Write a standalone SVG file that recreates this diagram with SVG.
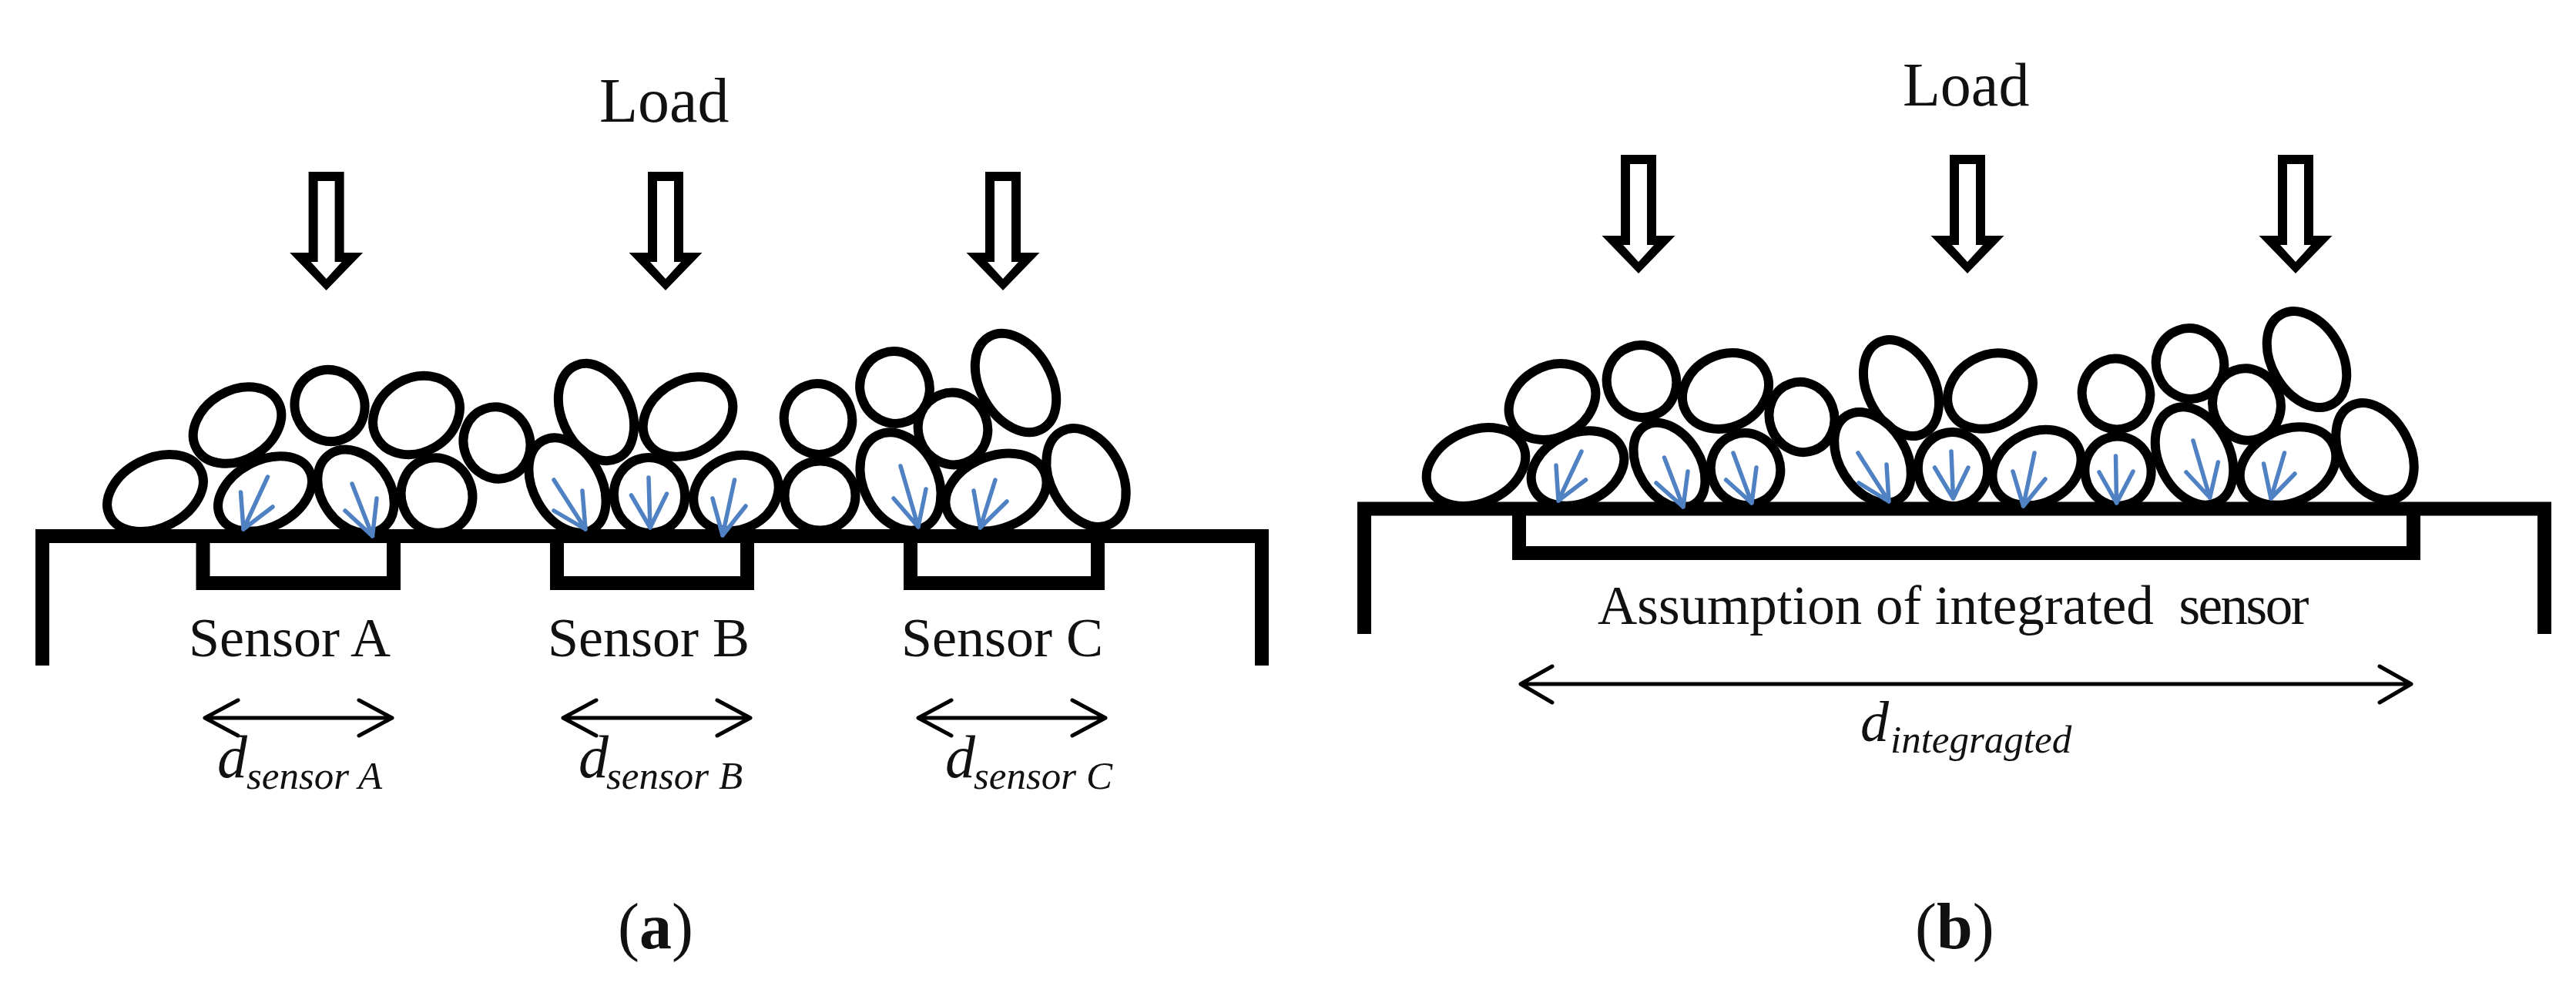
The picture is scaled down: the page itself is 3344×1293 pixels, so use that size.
<svg xmlns="http://www.w3.org/2000/svg" xmlns:xlink="http://www.w3.org/1999/xlink" width="3344" height="1293" viewBox="0 0 3344 1293">
<style>
text{font-family:"Liberation Serif","Times New Roman",serif;fill:#111}
.lbl{font-size:72px}
.d{font-style:italic;font-size:78px}
.sub{font-style:italic;font-size:51px}
.cap{font-size:84px}
.p{fill:#fff;stroke:#000;stroke-width:12}
.base{fill:none;stroke:#000;stroke-width:18;stroke-linejoin:miter}
.blue{fill:none;stroke:#4f81c3;stroke-width:5.5;stroke-linecap:round}
.dim{fill:none;stroke:#000;stroke-width:5;stroke-linecap:round;stroke-linejoin:round}
</style>
<defs>
<g id="load">
<path d="M-23 0H23V105H47.5L0 154L-47.5 105H-23Z" fill="#000"/>
<path d="M-11 12H11V117H20L0 139L-20 117H-11Z" fill="#fff"/>
</g>
</defs>
<rect width="3344" height="1293" fill="#fff"/>

<g id="panel-a">
<g id="load-a">
<text class="lbl" x="778" y="158" style="font-size:82px" >Load</text>
<use href="#load" x="423.6" y="223"/>
<use href="#load" x="864" y="223"/>
<use href="#load" x="1302" y="223"/>
</g>
<g id="particles-a">
<ellipse class="p" cx="201.5" cy="640" rx="66" ry="45" transform="rotate(-27 201.5 640)"/>
<ellipse class="p" cx="308" cy="552" rx="61" ry="45" transform="rotate(-31 308 552)"/>
<ellipse class="p" cx="428" cy="526.5" rx="47" ry="45" transform="rotate(60 428 526.5)"/>
<ellipse class="p" cx="540.5" cy="539" rx="59" ry="48" transform="rotate(-31 540.5 539)"/>
<ellipse class="p" cx="645" cy="575" rx="47" ry="43" transform="rotate(70 645 575)"/>
<ellipse class="p" cx="567" cy="643" rx="49" ry="46" transform="rotate(70 567 643)"/>
<ellipse class="p" cx="344" cy="641" rx="65" ry="43" transform="rotate(-28 344 641)"/>
<ellipse class="p" cx="462" cy="638" rx="59" ry="44" transform="rotate(54 462 638)"/>
<ellipse class="p" cx="774" cy="535" rx="66" ry="45" transform="rotate(66 774 535)"/>
<ellipse class="p" cx="893" cy="541" rx="62" ry="47" transform="rotate(-32 893 541)"/>
<ellipse class="p" cx="736.5" cy="630" rx="66" ry="44" transform="rotate(61 736.5 630)"/>
<ellipse class="p" cx="843" cy="643" rx="49" ry="46" transform="rotate(80 843 643)"/>
<ellipse class="p" cx="955.5" cy="640" rx="57" ry="47" transform="rotate(-27 955.5 640)"/>
<ellipse class="p" cx="1064.5" cy="643.5" rx="46" ry="45"/>
<ellipse class="p" cx="1062" cy="544" rx="46" ry="44" transform="rotate(70 1062 544)"/>
<ellipse class="p" cx="1161.5" cy="503" rx="47" ry="45" transform="rotate(70 1161.5 503)"/>
<ellipse class="p" cx="1237" cy="556.5" rx="47" ry="45" transform="rotate(70 1237 556.5)"/>
<ellipse class="p" cx="1318.5" cy="497" rx="69" ry="46" transform="rotate(60 1318.5 497)"/>
<ellipse class="p" cx="1169" cy="625" rx="67" ry="48" transform="rotate(63 1169 625)"/>
<ellipse class="p" cx="1293" cy="639" rx="68" ry="47" transform="rotate(-22 1293 639)"/>
<ellipse class="p" cx="1410" cy="620" rx="68" ry="46" transform="rotate(62 1410 620)"/>
</g>
<g id="plate-a">
<path class="base" d="M55 864V696H1638V864"/>
<path class="base" d="M263.500 696V757H511V696"/>
<path class="base" d="M723 696V757H970V696"/>
<path class="base" d="M1182 696V757H1425V696"/>
</g>
<g id="forces-a">
<path class="blue" d="M347.500 619L316 687M312.500 639L316 687M354 658L316 687"/>
<path class="blue" d="M457 628L483.500 696M489 647L483.500 696M448 663L483.500 696"/>
<path class="blue" d="M719 623L760 687M756 637L760 687M719 663L760 687"/>
<path class="blue" d="M842 620L844 685M819.500 643L844 685M865.500 641L844 685"/>
<path class="blue" d="M953.500 623L938 695M925 647L938 695M968 657L938 695"/>
<path class="blue" d="M1169 605L1192 684M1202 635L1192 684M1160 647L1192 684"/>
<path class="blue" d="M1292 623L1272.500 685M1264 637L1272.500 685M1307 651L1272.500 685"/>
</g>
<g id="sensor-labels-a">
<text class="lbl" x="245" y="852">Sensor A</text>
<text class="lbl" x="711" y="852">Sensor B</text>
<text class="lbl" x="1170" y="852">Sensor C</text>
</g>
<g id="connectors-a">
<path class="dim" d="M266 932H509M309 909L266 932L309 955M466 909L509 932L466 955"/>
<path class="dim" d="M731 932H974M774 909L731 932L774 955M931 909L974 932L931 955"/>
<path class="dim" d="M1192 932H1435M1235 909L1192 932L1235 955M1392 909L1435 932L1392 955"/>
</g>
<g id="dim-labels-a">
<text x="282" y="1009"><tspan class="d">d</tspan><tspan class="sub" x="320" y="1024">sensor A</tspan></text>
<text x="751" y="1009"><tspan class="d">d</tspan><tspan class="sub" x="787" y="1024">sensor B</tspan></text>
<text x="1227" y="1009"><tspan class="d">d</tspan><tspan class="sub" x="1264" y="1024">sensor C</tspan></text>
</g>
<text class="cap" x="802" y="1231">(<tspan font-weight="bold">a</tspan>)</text>
</g>

<g id="panel-b">
<g id="load-b">
<text class="lbl" x="2470" y="137" style="font-size:80px">Load</text>
<use href="#load" x="2127" y="201"/>
<use href="#load" x="2554" y="201"/>
<use href="#load" x="2980" y="201"/>
</g>
<g id="particles-b">
<ellipse class="p" cx="1916" cy="606" rx="67" ry="47" transform="rotate(-24 1916 606)"/>
<ellipse class="p" cx="2015" cy="521.500" rx="59" ry="46" transform="rotate(-29 2015 521.500)"/>
<ellipse class="p" cx="2131" cy="495" rx="47" ry="45" transform="rotate(70 2131 495)"/>
<ellipse class="p" cx="2240" cy="507.500" rx="58" ry="47" transform="rotate(-27 2240 507.500)"/>
<ellipse class="p" cx="2339" cy="541.500" rx="46" ry="42" transform="rotate(70 2339 541.500)"/>
<ellipse class="p" cx="2266" cy="609" rx="47" ry="45" transform="rotate(70 2266 609)"/>
<ellipse class="p" cx="2048" cy="608" rx="63" ry="45" transform="rotate(-25 2048 608)"/>
<ellipse class="p" cx="2167" cy="604" rx="60" ry="40" transform="rotate(58 2167 604)"/>
<ellipse class="p" cx="2468" cy="503.500" rx="66" ry="44" transform="rotate(64 2468 503.500)"/>
<ellipse class="p" cx="2583.500" cy="507.500" rx="58" ry="46" transform="rotate(-30 2583.500 507.500)"/>
<ellipse class="p" cx="2431" cy="594" rx="64" ry="43" transform="rotate(58 2431 594)"/>
<ellipse class="p" cx="2535" cy="609" rx="48" ry="45" transform="rotate(80 2535 609)"/>
<ellipse class="p" cx="2644" cy="607" rx="60" ry="46" transform="rotate(-27 2644 607)"/>
<ellipse class="p" cx="2749.500" cy="611.500" rx="45" ry="43" transform="rotate(80 2749.500 611.500)"/>
<ellipse class="p" cx="2747" cy="511.500" rx="46" ry="44" transform="rotate(70 2747 511.500)"/>
<ellipse class="p" cx="2843" cy="472" rx="46" ry="44" transform="rotate(70 2843 472)"/>
<ellipse class="p" cx="2916.500" cy="525" rx="47" ry="44" transform="rotate(70 2916.500 525)"/>
<ellipse class="p" cx="2994.500" cy="466.500" rx="67" ry="45.500" transform="rotate(60 2994.500 466.500)"/>
<ellipse class="p" cx="2848.500" cy="592" rx="67" ry="46" transform="rotate(64 2848.500 592)"/>
<ellipse class="p" cx="2970" cy="605" rx="65" ry="47" transform="rotate(-25 2970 605)"/>
<ellipse class="p" cx="3083" cy="586" rx="67" ry="45" transform="rotate(62 3083 586)"/>
</g>
<g id="plate-b">
<path class="base" d="M1771 823V660.500H3303V823"/>
<path class="base" d="M1972 660.500V718H3133V660.500"/>
</g>
<g id="forces-b">
<path class="blue" d="M2053 586L2023 650M2020 604L2023 650M2058.500 623L2023 650"/>
<path class="blue" d="M2160.500 594L2185 658M2191 612L2185 658M2150 627L2185 658"/>
<path class="blue" d="M2250 588L2274 653M2280 607L2274 653M2240.600 623L2274 653"/>
<path class="blue" d="M2412 588L2452 651M2449 603L2452 651M2413 627L2452 651"/>
<path class="blue" d="M2533 586L2535.500 647M2511.500 607L2535.500 647M2555 607L2535.500 647"/>
<path class="blue" d="M2641 588L2626.500 657M2613 612L2626.500 657M2655 622L2626.500 657"/>
<path class="blue" d="M2746.500 592L2747.600 653M2725 613L2747.600 653M2769 612L2747.600 653"/>
<path class="blue" d="M2847 572L2868.700 646M2879.400 600L2868.700 646M2838 613L2868.700 646"/>
<path class="blue" d="M2965.500 588L2948 647M2938.600 602L2948 647M2979 615L2948 647"/>
</g>
<text class="lbl" x="2074" y="810" style="font-size:71px">Assumption of integrated <tspan dx="15" letter-spacing="-2.500">sensor</tspan></text>
<g id="connectors-b">
<path class="dim" d="M1974 888H3130M2015 865L1974 888L2015 912M3089 865L3130 888L3089 912"/>
</g>
<text x="2415" y="962"><tspan class="d" style="font-size:74px">d</tspan><tspan class="sub" x="2454" y="977">integragted</tspan></text>
<text class="cap" x="2486" y="1231">(<tspan font-weight="bold">b</tspan>)</text>
</g>
</svg>
